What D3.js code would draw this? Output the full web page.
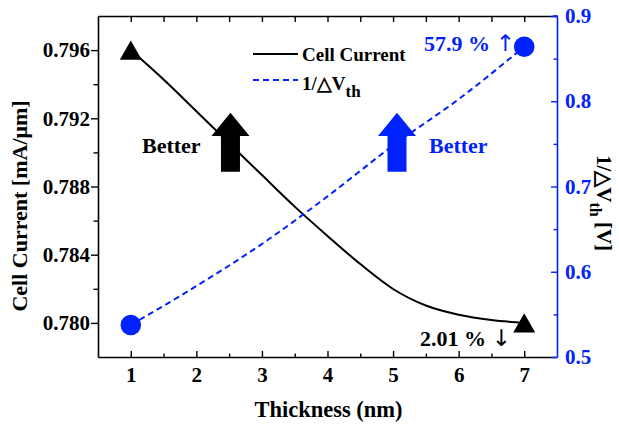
<!DOCTYPE html>
<html>
<head>
<meta charset="utf-8">
<script src="https://cdn.jsdelivr.net/npm/d3@7"></script>
<style>
  html, body { margin: 0; padding: 0; background: #fff; }
  svg { display: block; }
  text { font-family: "Liberation Serif", "Times New Roman", serif; font-weight: bold; }
</style>
</head>
<body>
<svg id="chart" width="619" height="425"></svg>
<script>
// ---- data ----
const xTicks = [1, 2, 3, 4, 5, 6, 7];
const xMinorTicks = [1.5, 2.5, 3.5, 4.5, 5.5, 6.5];
const leftTicks = [0.780, 0.784, 0.788, 0.792, 0.796];
const leftMinorTicks = [0.782, 0.786, 0.790, 0.794];
const rightTicks = [0.5, 0.6, 0.7, 0.8, 0.9];
const rightMinorTicks = [0.55, 0.65, 0.75, 0.85];

const curveThickness = [1, 1.5, 2, 2.5, 3, 3.5, 4, 4.5, 5, 5.5, 6, 6.5, 7];
const cellCurrent = [0.79600, 0.79427, 0.79241, 0.79054, 0.78867, 0.78682, 0.78510,
                     0.78345, 0.78199, 0.78102, 0.78048, 0.78017, 0.78000];
const markerThickness = [1, 7];
const cellCurrentMarkers = [0.796, 0.780];

const vthThickness = [1, 2, 3, 4, 5, 6, 7];
const invDeltaVth = [0.5375, 0.5832, 0.6326, 0.6884, 0.7481, 0.8024, 0.8640];
const invDeltaVthMarkers = [0.5375, 0.8640];

const BLUE = "#0022ff";

// ---- layout ----
const svg = d3.select("#chart");
const L = 98, R = 557, T = 16, B = 357;

const x = d3.scaleLinear().domain([0.5, 7.5]).range([L, R]);
const yL = d3.scaleLinear().domain([0.778, 0.798]).range([B, T]);
const yR = d3.scaleLinear().domain([0.5, 0.9]).range([B, T]);

// ---- axes ----
function styleAxis(g, color) {
  g.selectAll("path").attr("stroke", color).attr("stroke-width", 1.6);
  g.selectAll("line").attr("stroke", color).attr("stroke-width", 1.4);
  g.selectAll("text").attr("fill", color)
    .style("font-family", '"Liberation Serif", serif')
    .style("font-weight", "bold").style("font-size", "21px");
}

// bottom
const gB = svg.append("g").attr("transform", `translate(0,${B})`)
  .call(d3.axisBottom(x).tickValues(xTicks).tickFormat(d3.format("d"))
    .tickSizeInner(-6).tickSizeOuter(0).tickPadding(10));
styleAxis(gB, "#000");
const gBm = svg.append("g").attr("transform", `translate(0,${B})`)
  .call(d3.axisBottom(x).tickValues(xMinorTicks).tickFormat("")
    .tickSizeInner(-3.5).tickSizeOuter(0));
styleAxis(gBm, "#000"); gBm.select("path").remove();

// top
const gT = svg.append("g").attr("transform", `translate(0,${T})`)
  .call(d3.axisTop(x).tickValues(xTicks.concat(xMinorTicks)).tickFormat("")
    .tickSizeInner(-6).tickSizeOuter(0));
styleAxis(gT, "#000");

// left
const gL = svg.append("g").attr("transform", `translate(${L},0)`)
  .call(d3.axisLeft(yL).tickValues(leftTicks).tickFormat(d3.format(".3f"))
    .tickSizeInner(7).tickSizeOuter(0).tickPadding(1));
styleAxis(gL, "#000");
const gLm = svg.append("g").attr("transform", `translate(${L},0)`)
  .call(d3.axisLeft(yL).tickValues(leftMinorTicks).tickFormat("")
    .tickSizeInner(4.5).tickSizeOuter(0));
styleAxis(gLm, "#000"); gLm.select("path").remove();

// right
const gR = svg.append("g").attr("transform", `translate(${R},0)`)
  .call(d3.axisRight(yR).tickValues(rightTicks).tickFormat(d3.format(".1f"))
    .tickSizeInner(-6).tickSizeOuter(0).tickPadding(8));
styleAxis(gR, BLUE);
const gRm = svg.append("g").attr("transform", `translate(${R},0)`)
  .call(d3.axisRight(yR).tickValues(rightMinorTicks).tickFormat("")
    .tickSizeInner(-3.5).tickSizeOuter(0));
styleAxis(gRm, BLUE); gRm.select("path").remove();

// close top-right corner in blue
svg.append("line").attr("x1", R - 4).attr("x2", R + 0.8).attr("y1", T).attr("y2", T)
  .attr("stroke", BLUE).attr("stroke-width", 1.6);

// ---- axis titles ----
svg.append("text").attr("transform", `translate(27,206) rotate(-90)`)
  .attr("text-anchor", "middle").style("font-size", "22px").attr("fill", "#000")
  .text("Cell Current [mA/\u03bcm]");

svg.append("text").attr("x", (L + R) / 2 + 1).attr("y", 417)
  .attr("text-anchor", "middle").style("font-size", "22.5px").attr("fill", "#000")
  .text("Thickness (nm)");

const rt = svg.append("text").attr("transform", `translate(597,203) rotate(90)`)
  .attr("text-anchor", "middle").style("font-size", "21px").attr("fill", "#000");
rt.append("tspan").text("1/\u25b3V");
rt.append("tspan").attr("dy", 7).style("font-size", "16px").text("th");
rt.append("tspan").attr("dy", -7).text(" [V]");

// ---- series ----
const blackLine = d3.line().x(d => x(d[0])).y(d => yL(d[1])).curve(d3.curveMonotoneX);
svg.append("path")
  .datum(curveThickness.map((t, i) => [t, cellCurrent[i]]))
  .attr("d", blackLine).attr("fill", "none").attr("stroke", "#000").attr("stroke-width", 2);

const blueLine = d3.line().x(d => x(d[0])).y(d => yR(d[1])).curve(d3.curveMonotoneX);
svg.append("path")
  .datum(vthThickness.map((t, i) => [t, invDeltaVth[i]]))
  .attr("d", blueLine).attr("fill", "none").attr("stroke", BLUE)
  .attr("stroke-width", 2).attr("stroke-dasharray", "6,4");

// triangles (centered on bounding box)
const triPath = (s) => {
  const h = s * Math.sqrt(3) / 2;
  return `M0,${-h / 2}L${s / 2},${h / 2}L${-s / 2},${h / 2}Z`;
};
svg.append("g").selectAll("path")
  .data(markerThickness.map((t, i) => [t, cellCurrentMarkers[i]]))
  .join("path")
  .attr("transform", d => `translate(${x(d[0])},${yL(d[1])})`)
  .attr("d", triPath(22)).attr("fill", "#000");

svg.append("g").selectAll("circle")
  .data(markerThickness.map((t, i) => [t, invDeltaVthMarkers[i]]))
  .join("circle")
  .attr("cx", d => x(d[0])).attr("cy", d => yR(d[1])).attr("r", 10.3)
  .attr("fill", BLUE);

// ---- legend ----
svg.append("line").attr("x1", 253).attr("x2", 298).attr("y1", 54).attr("y2", 54)
  .attr("stroke", "#000").attr("stroke-width", 2);
svg.append("text").attr("x", 302).attr("y", 61).style("font-size", "19px")
  .attr("fill", "#000").text("Cell Current");
svg.append("line").attr("x1", 253).attr("x2", 298).attr("y1", 80).attr("y2", 80)
  .attr("stroke", BLUE).attr("stroke-width", 2).attr("stroke-dasharray", "6,4");
const lt = svg.append("text").attr("x", 302).attr("y", 90).style("font-size", "19px").attr("fill", "#000");
lt.append("tspan").text("1/\u25b3V");
lt.append("tspan").attr("dy", 7).style("font-size", "17px").text("th");

// ---- annotations ----
function blockArrow(cx, color) {
  const tip = 112.7, headBase = 136, bottom = 171.7, hw = 19, sw = 9.5;
  svg.append("path")
    .attr("d", `M${cx},${tip}L${cx + hw},${headBase}L${cx + sw},${headBase}L${cx + sw},${bottom}` +
      `L${cx - sw},${bottom}L${cx - sw},${headBase}L${cx - hw},${headBase}Z`)
    .attr("fill", color);
}
blockArrow(x(2.52), "#000");
blockArrow(x(5.06), BLUE);

svg.append("text").attr("x", 142).attr("y", 153).style("font-size", "22px")
  .attr("fill", "#000").text("Better");
svg.append("text").attr("x", 429).attr("y", 153).style("font-size", "22px")
  .attr("fill", BLUE).text("Better");

const a1 = svg.append("text").attr("x", 424).attr("y", 51).style("font-size", "22px").attr("fill", BLUE);
a1.append("tspan").text("57.9 % ");
a1.append("tspan").style("font-family", '"DejaVu Sans", sans-serif').style("font-weight", "normal")
  .style("font-size", "23px").text("\u2191");

const a2 = svg.append("text").attr("x", 420).attr("y", 346).style("font-size", "22px").attr("fill", "#000");
a2.append("tspan").text("2.01 % ");
a2.append("tspan").style("font-family", '"DejaVu Sans", sans-serif').style("font-weight", "normal")
  .style("font-size", "23px").text("\u2193");
</script>
</body>
</html>
